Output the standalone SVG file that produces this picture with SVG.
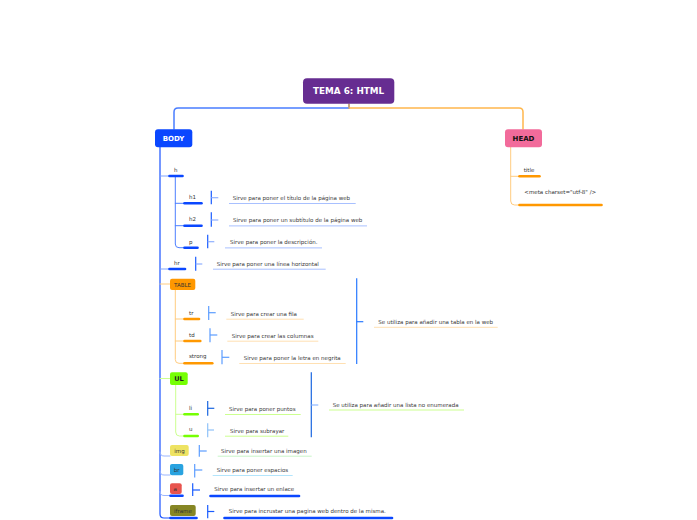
<svg xmlns="http://www.w3.org/2000/svg" width="697" height="520" viewBox="0 0 697 520">
<style>
text{font-family:"DejaVu Sans",Verdana,sans-serif}
.nl{font-size:5.5px;fill:#333}
.dl{font-size:5.5px;fill:#3a3a3a}
.bx{font-size:5.5px;fill:#333}
.ln{fill:none;stroke-linecap:round;stroke-linejoin:round}
.ul{fill:none;stroke-linecap:round;stroke-width:2.6}
.du{fill:none;stroke-width:1}
.bk{fill:none;stroke-width:1.2}
.tk{fill:none;stroke-width:1.2}
</style>
<rect width="697" height="520" fill="#ffffff"/>
<g id="connectors">
  <path class="ln" d="M349,104 L349,108" stroke="#b48a5a" stroke-width="1.5"/>
  <path class="ln" d="M349,108 L178,108 Q174,108 174,112 L174,129" stroke="#4a7dff" stroke-width="1.5"/>
  <path class="ln" d="M349,108 L519,108 Q523,108 523,112 L523,129" stroke="#ffb74d" stroke-width="1.5"/>
  <path class="ln" d="M160,147 L160,514 Q160,518 164,518 L170,518" stroke="#1a53ff" stroke-width="1.2"/>
  <path class="ln" d="M160,176 L169,176" stroke="#7fa3ff" stroke-width="1"/>
  <path class="ln" d="M160,269 L169,269" stroke="#7fa3ff" stroke-width="1"/>
  <path class="ln" d="M160,284 L170,284" stroke="#ffcc80" stroke-width="1"/>
  <path class="ln" d="M160,378.5 L170,378.5" stroke="#ccff90" stroke-width="1"/>
  <path class="ln" d="M160,452 Q160,456 164,456 L170,456" stroke="#9ab5ff" stroke-width="1"/>
  <path class="ln" d="M160,471 Q160,475 164,475 L170,475" stroke="#9ab5ff" stroke-width="1"/>
  <path class="ln" d="M160,491.5 Q160,495.5 164,495.5 L170,495.5" stroke="#9ab5ff" stroke-width="1"/>
  <path class="ln" d="M175.3,177 L175.3,244 Q175.3,247.7 179,247.7 L184,247.7 M175.3,203.3 L184,203.3 M175.3,225.7 L184,225.7" stroke="#4d7fff" stroke-width="1"/>
  <path class="ln" d="M175.3,290 L175.3,359.5 Q175.3,363.3 179,363.3 L184,363.3 M175.3,319 L184,319 M175.3,341 L184,341" stroke="#ffcc80" stroke-width="1"/>
  <path class="ln" d="M175.7,385 L175.7,432 Q175.7,436 179.5,436 L184,436 M175.7,414.3 L184,414.3" stroke="#ccff90" stroke-width="1"/>
  <path class="ln" d="M510.7,147 L510.7,201 Q510.7,205 514.7,205 L519,205 M510.7,176.3 L519,176.3" stroke="#ffcc80" stroke-width="1"/>
</g>
<g id="tema">
  <rect x="303" y="78.3" width="91.3" height="25.4" rx="4" fill="#662d91"/>
  <text x="348.6" y="94" text-anchor="middle" font-size="8.8" font-weight="bold" fill="#ffffff">TEMA 6: HTML</text>
</g>
<g id="body">
  <rect x="155" y="129.3" width="37.3" height="18" rx="3" fill="#0a47ff"/>
  <text x="173.6" y="140.7" text-anchor="middle" font-size="7" font-weight="bold" fill="#ffffff">BODY</text>
</g>
<g id="head">
  <rect x="505" y="129.3" width="37" height="18" rx="3" fill="#f26b9b"/>
  <text x="523.5" y="140.7" text-anchor="middle" font-size="7" font-weight="bold" fill="#111111">HEAD</text>
</g>
<g id="head-title">
  <path class="ul" d="M519.5,176.3 L539.5,176.3" stroke="#ff9800"/>
  <text class="nl" x="523.7" y="172">title</text>
</g>
<g id="head-meta">
  <path class="ul" d="M519.5,205 L601.5,205" stroke="#ff9800"/>
  <text class="nl" x="524.3" y="194">&lt;meta charset="utf-8" /&gt;</text>
</g>
<g id="h">
  <path class="ul" d="M169.5,176 L182.5,176" stroke="#0a47ff"/>
  <text class="nl" x="174" y="172.3">h</text>
</g>
<g id="h1">
  <path class="ul" d="M184.5,203.3 L201.5,203.3" stroke="#0a47ff"/>
  <text class="nl" x="189" y="199">h1</text>
  <path class="bk" d="M211.3,190.7 L211.3,204.3" stroke="#1a5cff"/>
  <path class="tk" d="M211.3,197.7 L218.3,197.7" stroke="#8fb0ff"/>
  <path class="du" d="M229,203.5 L355.7,203.5" stroke="#a8c0ff"/>
  <text class="dl" x="232.7" y="200.2">Sirve para poner el título de la página web</text>
</g>
<g id="h2">
  <path class="ul" d="M184.5,225.7 L201.5,225.7" stroke="#0a47ff"/>
  <text class="nl" x="189" y="221.4">h2</text>
  <path class="bk" d="M211.3,212.3 L211.3,226.7" stroke="#1a5cff"/>
  <path class="tk" d="M211.3,220 L218.3,220" stroke="#8fb0ff"/>
  <path class="du" d="M229,225.9 L367,225.9" stroke="#a8c0ff"/>
  <text class="dl" x="233" y="222.4">Sirve para poner un subtítulo de la página web</text>
</g>
<g id="p">
  <path class="ul" d="M184.5,247.7 L197.5,247.7" stroke="#0a47ff"/>
  <text class="nl" x="189" y="243.5">p</text>
  <path class="bk" d="M207.7,234.7 L207.7,248.3" stroke="#1a5cff"/>
  <path class="tk" d="M207.7,241.7 L214.3,241.7" stroke="#8fb0ff"/>
  <path class="du" d="M225,247.9 L322,247.9" stroke="#a8c0ff"/>
  <text class="dl" x="230" y="244">Sirve para poner la descripción.</text>
</g>
<g id="hr">
  <path class="ul" d="M169.5,269 L185,269" stroke="#0a47ff"/>
  <text class="nl" x="174" y="265">hr</text>
  <path class="bk" d="M195.7,256.7 L195.7,270.7" stroke="#1a5cff"/>
  <path class="tk" d="M195.7,264 L202.3,264" stroke="#8fb0ff"/>
  <path class="du" d="M213,269.2 L325.7,269.2" stroke="#a8c0ff"/>
  <text class="dl" x="216.7" y="266">Sirve para poner una línea horizontal</text>
</g>
<g id="table">
  <rect x="170" y="278.7" width="25.3" height="11.3" rx="2" fill="#ff9800"/>
  <text class="bx" x="174" y="286.5">TABLE</text>
  <path class="bk" d="M356.7,278.3 L356.7,364" stroke="#2979ff"/>
  <path class="tk" d="M356.7,321.7 L363.3,321.7" stroke="#2979ff"/>
  <path class="du" d="M374,327.3 L497.7,327.3" stroke="#ffe0b2"/>
  <text class="dl" x="378.3" y="324.3">Se utiliza para añadir una tabla en la web</text>
</g>
<g id="tr">
  <path class="ul" d="M184.5,319 L199,319" stroke="#ff9800"/>
  <text class="nl" x="189" y="314.8">tr</text>
  <path class="bk" d="M208.7,306 L208.7,320" stroke="#5c9dff"/>
  <path class="tk" d="M208.7,312.7 L215.7,312.7" stroke="#5c9dff"/>
  <path class="du" d="M226.3,319.2 L303.7,319.2" stroke="#ffe0b2"/>
  <text class="dl" x="230.7" y="315.8">Sirve para crear una fila</text>
</g>
<g id="td">
  <path class="ul" d="M184.5,341 L200.3,341" stroke="#ff9800"/>
  <text class="nl" x="189" y="336.8">td</text>
  <path class="bk" d="M210,328.3 L210,342.3" stroke="#5c9dff"/>
  <path class="tk" d="M210,335 L217.3,335" stroke="#5c9dff"/>
  <path class="du" d="M227.3,341.2 L318.3,341.2" stroke="#ffe0b2"/>
  <text class="dl" x="231.7" y="337.8">Sirve para crear las columnas</text>
</g>
<g id="strong">
  <path class="ul" d="M184.5,363.3 L212.3,363.3" stroke="#ff9800"/>
  <text class="nl" x="189" y="358.3">strong</text>
  <path class="bk" d="M222,350 L222,364.3" stroke="#5c9dff"/>
  <path class="tk" d="M222,357.3 L229.3,357.3" stroke="#5c9dff"/>
  <path class="du" d="M239.3,363.5 L345.7,363.5" stroke="#ffe0b2"/>
  <text class="dl" x="243.7" y="359.8">Sirve para poner la letra en negrita</text>
</g>
<g id="ul">
  <rect x="170" y="372.3" width="17.7" height="12.7" rx="2" fill="#76ff03"/>
  <text x="174.2" y="381.3" font-size="6.5" font-weight="bold" fill="#222">UL</text>
  <path class="bk" d="M311.3,372.3 L311.3,437.3" stroke="#1a66e0"/>
  <path class="tk" d="M311.3,405 L318.3,405" stroke="#8fb8ff"/>
  <path class="du" d="M329,410 L464,410" stroke="#ccff90"/>
  <text class="dl" x="332.7" y="407">Se utiliza para añadir una lista no enumerada</text>
</g>
<g id="li">
  <path class="ul" d="M184.5,414.3 L197.7,414.3" stroke="#76ff03"/>
  <text class="nl" x="189" y="409.5">li</text>
  <path class="bk" d="M207.7,401 L207.7,415.7" stroke="#1a66e0"/>
  <path class="tk" d="M207.7,408.3 L214.3,408.3" stroke="#1a66e0"/>
  <path class="du" d="M225,414.5 L300.7,414.5" stroke="#ccff90"/>
  <text class="dl" x="229" y="411">Sirve para poner puntos</text>
</g>
<g id="u">
  <path class="ul" d="M184.5,436 L197.7,436" stroke="#76ff03"/>
  <text class="nl" x="189" y="431.3">u</text>
  <path class="bk" d="M207.7,423.3 L207.7,437.3" stroke="#90c2f9" stroke-width="2"/>
  <path class="tk" d="M207.7,430 L214,430" stroke="#90c2f9"/>
  <path class="du" d="M225,436.2 L288.3,436.2" stroke="#ccff90"/>
  <text class="dl" x="230" y="432.7">Sirve para subrayar</text>
</g>
<g id="img">
  <rect x="170" y="445" width="18.7" height="11" rx="2" fill="#eee362"/>
  <text class="bx" x="174.3" y="453">img</text>
  <path class="bk" d="M199.3,445 L199.3,456.7" stroke="#5c9dff"/>
  <path class="tk" d="M199.3,451 L206.7,451" stroke="#5c9dff"/>
  <path class="du" d="M217.7,456.2 L311.7,456.2" stroke="#c8f5c8"/>
  <text class="dl" x="221" y="453.3">Sirve para insertar una imagen</text>
</g>
<g id="br">
  <rect x="170" y="464" width="13.3" height="11.3" rx="2" fill="#29a3e0"/>
  <text class="bx" x="173.8" y="472">br</text>
  <path class="bk" d="M194.7,464 L194.7,477.5" stroke="#5c9dff"/>
  <path class="tk" d="M194.7,470 L202.3,470" stroke="#5c9dff"/>
  <path class="du" d="M212.7,475.5 L292.7,475.5" stroke="#b3e5fc"/>
  <text class="dl" x="216.7" y="472">Sirve para poner espacios</text>
</g>
<g id="a">
  <rect x="170" y="483.3" width="11.7" height="10.7" rx="2" fill="#e8544e"/>
  <text class="bx" x="173.6" y="491" fill="#f4e8e8">a</text>
  <path class="ul" d="M170.5,495.7 L182.5,495.7" stroke="#0a47ff"/>
  <path class="bk" d="M192.7,483.3 L192.7,496" stroke="#1a5cff"/>
  <path class="tk" d="M192.7,490 L200,490" stroke="#1a5cff"/>
  <path class="ul" d="M210.5,496 L299,496" stroke="#0a47ff"/>
  <text class="dl" x="214.3" y="491.2">Sirve para insertar un enlace</text>
</g>
<g id="iframe">
  <rect x="170" y="505" width="25.7" height="11" rx="2" fill="#868624"/>
  <text class="bx" x="174" y="513" fill="#eeeedd">iframe</text>
  <path class="ul" d="M170.5,518 L196.5,518" stroke="#0a47ff"/>
  <path class="bk" d="M207.7,505 L207.7,518.3" stroke="#1a5cff"/>
  <path class="tk" d="M207.7,511.5 L214.3,511.5" stroke="#1a5cff"/>
  <path class="ul" d="M224.5,518 L392,518" stroke="#0a47ff"/>
  <text class="dl" x="228.7" y="513.3">Sirve para incrustar una pagina web dentro de la misma.</text>
</g>
</svg>
